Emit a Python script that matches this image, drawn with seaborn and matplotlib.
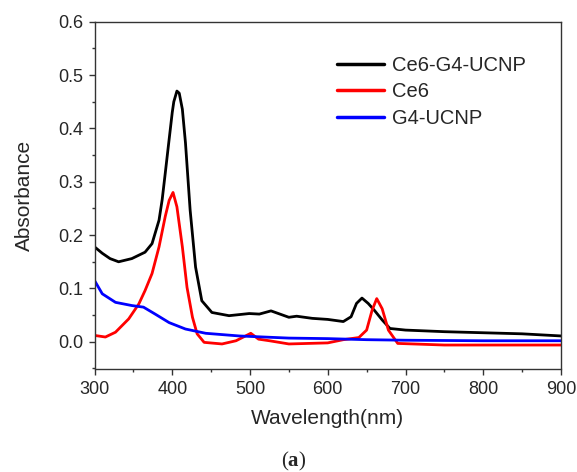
import matplotlib
matplotlib.use("Agg")
import matplotlib.pyplot as plt
import seaborn as sns
import pandas as pd
import numpy as np

# ---- data ----
wl_black = [300, 310, 320, 331, 348, 365, 374, 383, 387, 391, 395, 400, 402, 406, 409, 413,
            417, 423, 430, 438, 451, 473, 499, 512, 527, 550, 560, 580, 600, 620, 630, 637,
            644, 652, 660, 670, 680, 700, 750, 800, 850, 900]
abs_black = [0.178, 0.166, 0.156, 0.150, 0.156, 0.168, 0.184, 0.228, 0.266, 0.316, 0.367,
             0.430, 0.450, 0.470, 0.466, 0.436, 0.373, 0.247, 0.140, 0.077, 0.055, 0.049,
             0.053, 0.052, 0.058, 0.046, 0.048, 0.044, 0.042, 0.038, 0.047, 0.072, 0.082,
             0.072, 0.059, 0.041, 0.025, 0.022, 0.019, 0.017, 0.015, 0.011]

wl_red = [300, 314, 327, 344, 357, 365, 374, 383, 391, 396, 401, 406, 413, 419, 426, 432,
          441, 464, 482, 501, 511, 525, 550, 600, 620, 640, 650, 657, 663, 670, 678, 690,
          750, 800, 850, 900]
abs_red = [0.012, 0.009, 0.018, 0.043, 0.071, 0.096, 0.128, 0.178, 0.235, 0.265, 0.280,
           0.253, 0.178, 0.102, 0.046, 0.015, -0.001, -0.004, 0.002, 0.016, 0.005, 0.002,
           -0.004, -0.002, 0.004, 0.008, 0.022, 0.059, 0.081, 0.062, 0.022, -0.003, -0.006,
           -0.006, -0.006, -0.006]

wl_blue = [300, 310, 327, 348, 363, 378, 396, 417, 443, 486, 550, 600, 650, 700, 800, 900]
abs_blue = [0.115, 0.090, 0.074, 0.068, 0.065, 0.052, 0.036, 0.024, 0.016, 0.011, 0.007,
            0.006, 0.004, 0.003, 0.002, 0.002]

series_names = ["Ce6-G4-UCNP", "Ce6", "G4-UCNP"]
series_colors = ["#000000", "#ff0000", "#0000ff"]
x_ticks = [300, 400, 500, 600, 700, 800, 900]
y_ticks = [0.0, 0.1, 0.2, 0.3, 0.4, 0.5, 0.6]

df = pd.concat([
    pd.DataFrame({"Wavelength": wl_black, "Absorbance": abs_black, "Sample": series_names[0]}),
    pd.DataFrame({"Wavelength": wl_red, "Absorbance": abs_red, "Sample": series_names[1]}),
    pd.DataFrame({"Wavelength": wl_blue, "Absorbance": abs_blue, "Sample": series_names[2]}),
], ignore_index=True)

sns.set_theme(style="ticks")
plt.rcParams["font.family"] = ["Liberation Sans", "DejaVu Sans"]
plt.rcParams["mathtext.fontset"] = "custom"
plt.rcParams["mathtext.rm"] = "Liberation Serif"
plt.rcParams["mathtext.bf"] = "Liberation Serif:bold"

fig = plt.figure(figsize=(5.77, 4.72), dpi=100)
ax = fig.add_axes([94.5 / 577, 1 - 368.5 / 472, 466.5 / 577, 346.8 / 472])

sns.lineplot(data=df, x="Wavelength", y="Absorbance", hue="Sample", hue_order=series_names,
             palette=dict(zip(series_names, series_colors)), estimator=None, sort=True,
             linewidth=2.0, ax=ax)

ax.set_xlim(300, 900)
ax.set_ylim(-0.05, 0.6)
ax.set_xticks(x_ticks)
ax.set_yticks(y_ticks)
ax.set_xticklabels([str(v) for v in x_ticks])
ax.set_yticklabels([f"{v:.1f}" for v in y_ticks])
ax.set_xticks(np.arange(350, 900, 100), minor=True)
ax.set_yticks([-0.05, 0.05, 0.15, 0.25, 0.35, 0.45, 0.55], minor=True)
ax.tick_params(which="major", direction="out", length=4.3, width=1, color="#333333",
               labelsize=13, top=False, right=False)
ax.tick_params(axis="y", which="major", pad=3.5)
ax.tick_params(axis="x", which="major", pad=4.5)
ax.tick_params(which="minor", direction="out", length=2.2, width=1, color="#333333",
               top=False, right=False)
for s in ax.spines.values():
    s.set_color("#333333")
    s.set_linewidth(1.0)

ax.set_xlabel("Wavelength(nm)", fontsize=15, labelpad=8)
ax.set_ylabel("Absorbance", fontsize=15, labelpad=18)

leg = ax.legend(loc="upper left", bbox_to_anchor=(337 / 577, 1 - 56 / 472),
                bbox_transform=fig.transFigure, frameon=False, fontsize=14.5,
                handlelength=2.33, handletextpad=0.4, labelspacing=0.37,
                borderpad=0, borderaxespad=0)
for h in leg.get_lines():
    h.set_linewidth(2.5)

fig.text(294 / 577, 1 - 461 / 472, r"($\mathbf{a}$)", fontsize=15,
         family="Liberation Serif", ha="center", va="center")

fig.savefig("out.png", dpi=100)
